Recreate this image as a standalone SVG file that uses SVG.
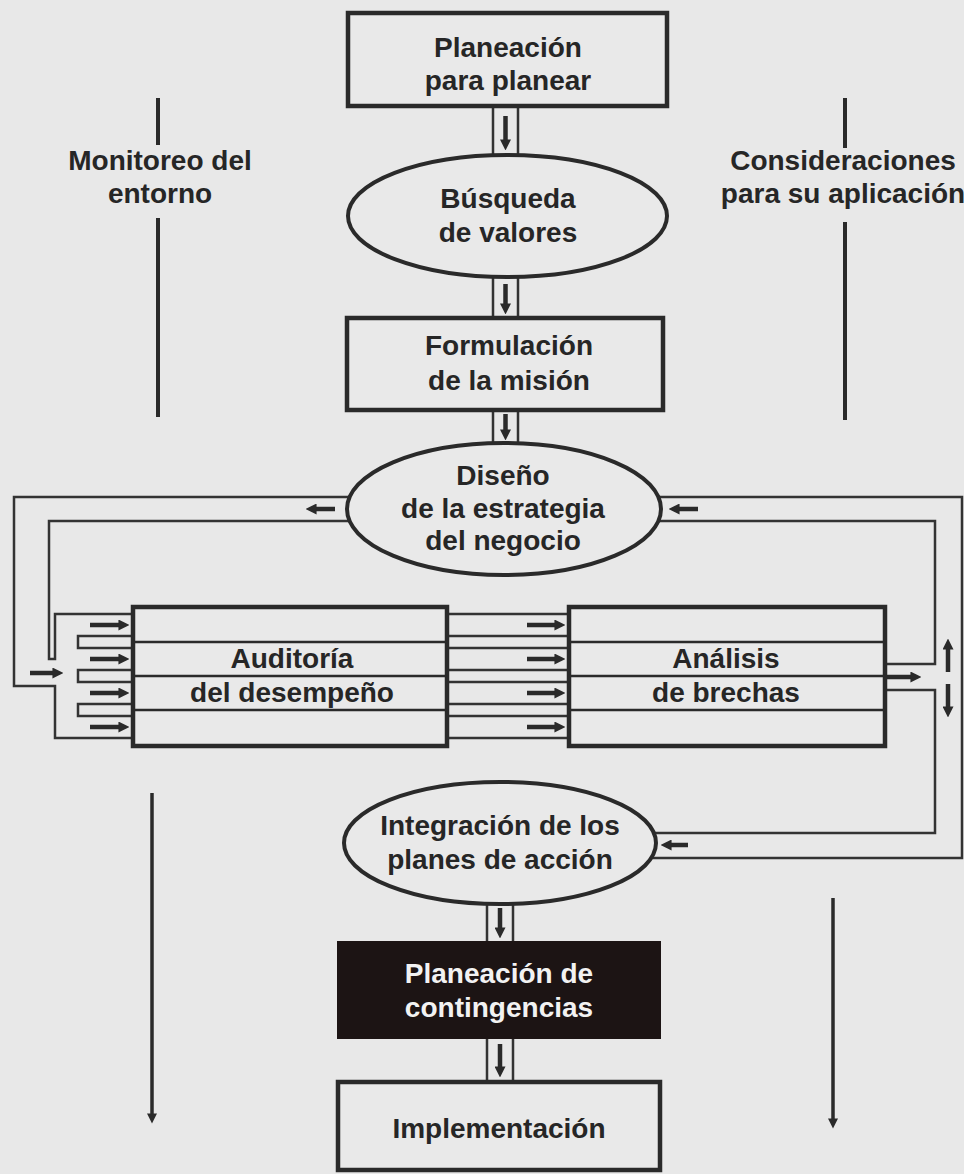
<svg xmlns="http://www.w3.org/2000/svg" width="964" height="1174" viewBox="0 0 964 1174">
<defs>
<style>
.bg{fill:#e8e8e8}
.box{fill:#e9e9e9;stroke:#2a2a2a;stroke-width:4.5}
.ell{fill:#e9e9e9;stroke:#2a2a2a;stroke-width:4}
.div{stroke:#2a2a2a;stroke-width:2.5;fill:none}
.thin{stroke:#333;stroke-width:2.5;fill:none}
.side{stroke:#2a2a2a;stroke-width:4;fill:none}
.arr{stroke:#2a2a2a;stroke-width:4.5;fill:none;marker-end:url(#ah)}
.arrs{stroke:#2a2a2a;stroke-width:3.5;fill:none;marker-end:url(#ahs)}
text{font-family:"Liberation Sans",Arial,sans-serif;font-weight:bold;font-size:28px;fill:#262626;text-anchor:middle}
.w{fill:#f2f2f2}
</style>
<marker id="ah" viewBox="0 0 10 10" refX="0.5" refY="5" markerWidth="11" markerHeight="11" markerUnits="userSpaceOnUse" orient="auto"><path d="M0,0 L10,5 L0,10 z" fill="#2a2a2a"/></marker>
<marker id="ahs" viewBox="0 0 10 10" refX="0.5" refY="5" markerWidth="11" markerHeight="10" markerUnits="userSpaceOnUse" orient="auto"><path d="M0,0 L10,5 L0,10 z" fill="#2a2a2a"/></marker>
</defs>
<rect class="bg" x="0" y="0" width="964" height="1174"/>

<g id="connectors">
  <!-- vertical double-line connectors -->
  <path class="thin" d="M493,106 V160 M518,106 V160"/>
  <line class="arr" x1="505.5" y1="116" x2="505.5" y2="140"/>
  <path class="thin" d="M493,277 V318 M518,277 V318"/>
  <line class="arr" x1="505.5" y1="284" x2="505.5" y2="304"/>
  <path class="thin" d="M493,410 V448 M518,410 V448"/>
  <line class="arr" x1="505.5" y1="414" x2="505.5" y2="430"/>
  <path class="thin" d="M487,900 V942 M513,900 V942"/>
  <line class="arr" x1="500" y1="908" x2="500" y2="928"/>
  <path class="thin" d="M487,1038 V1082 M513,1038 V1082"/>
  <line class="arr" x1="500" y1="1044" x2="500" y2="1067"/>

  <!-- left channel from Diseño to Auditoría comb -->
  <path class="thin" d="M400,497 H14 V686 H55 V738 H135"/>
  <path class="thin" d="M400,521 H49 V659 H55 V614 H135"/>
  <path class="thin" d="M135,636 H78 V648 H135 M135,670 H78 V682 H135 M135,704 H78 V716 H135"/>
  <line class="arr" x1="335" y1="509" x2="316" y2="509"/>
  <line class="arr" x1="30" y1="673" x2="53" y2="673"/>
  <line class="arr" x1="90" y1="625" x2="119" y2="625"/>
  <line class="arr" x1="90" y1="659" x2="119" y2="659"/>
  <line class="arr" x1="90" y1="693" x2="119" y2="693"/>
  <line class="arr" x1="90" y1="727" x2="119" y2="727"/>

  <!-- lanes between Auditoría and Análisis -->
  <path class="thin" d="M447,614 H569 M447,636 H569 M447,648 H569 M447,670 H569 M447,682 H569 M447,704 H569 M447,716 H569 M447,738 H569"/>
  <line class="arr" x1="527" y1="625" x2="555" y2="625"/>
  <line class="arr" x1="527" y1="659" x2="555" y2="659"/>
  <line class="arr" x1="527" y1="693" x2="555" y2="693"/>
  <line class="arr" x1="527" y1="727" x2="555" y2="727"/>

  <!-- right channel -->
  <path class="thin" d="M650,497 H962 V858 H640"/>
  <path class="thin" d="M650,521 H935 V664 H885"/>
  <path class="thin" d="M885,690 H935 V833 H640"/>
  <line class="arr" x1="698" y1="509" x2="679" y2="509"/>
  <line class="arr" x1="887" y1="677" x2="911" y2="677"/>
  <line class="arr" x1="948" y1="672" x2="948" y2="649"/>
  <line class="arr" x1="948" y1="684" x2="948" y2="707"/>
  <line class="arr" x1="688" y1="845" x2="671" y2="845"/>

  <!-- side lines -->
  <path class="side" d="M158,98 V145 M158,218 V417"/>
  <path class="side" d="M845,98 V148 M845,222 V420"/>
  <line class="arrs" x1="152" y1="793" x2="152" y2="1114"/>
  <line class="arrs" x1="833" y1="898" x2="833" y2="1119"/>
</g>

<g id="n-planeacion">
  <rect class="box" x="348" y="13" width="319" height="93"/>
  <text x="508" y="57">Planeación</text>
  <text x="508" y="90">para planear</text>
</g>
<g id="n-busqueda">
  <ellipse class="ell" cx="507.5" cy="216" rx="159.5" ry="61"/>
  <text x="508" y="208">Búsqueda</text>
  <text x="508" y="242">de valores</text>
</g>
<g id="n-formulacion">
  <rect class="box" x="347" y="318" width="316" height="92"/>
  <text x="509" y="355">Formulación</text>
  <text x="509" y="390">de la misión</text>
</g>
<g id="n-diseno">
  <ellipse class="ell" cx="504" cy="509" rx="157" ry="66"/>
  <text x="503" y="485">Diseño</text>
  <text x="503" y="518">de la estrategia</text>
  <text x="503" y="550">del negocio</text>
</g>
<g id="n-auditoria">
  <rect class="box" x="133" y="607" width="314" height="139"/>
  <path class="div" d="M133,642 H447 M133,676 H447 M133,710 H447"/>
  <text x="292" y="668">Auditoría</text>
  <text x="292" y="702">del desempeño</text>
</g>
<g id="n-analisis">
  <rect class="box" x="569" y="607" width="316" height="139"/>
  <path class="div" d="M569,642 H885 M569,676 H885 M569,710 H885"/>
  <text x="726" y="668">Análisis</text>
  <text x="726" y="702">de brechas</text>
</g>
<g id="n-integracion">
  <ellipse class="ell" cx="500" cy="843" rx="156" ry="61"/>
  <text x="500" y="835">Integración de los</text>
  <text x="500" y="869">planes de acción</text>
</g>
<g id="n-contingencias">
  <rect x="338" y="942" width="322" height="96" fill="#1c1414" stroke="#1c1414" stroke-width="2"/>
  <text class="w" x="499" y="983">Planeación de</text>
  <text class="w" x="499" y="1017">contingencias</text>
</g>
<g id="n-implementacion">
  <rect class="box" x="338" y="1082" width="322" height="88"/>
  <text x="499" y="1138">Implementación</text>
</g>
<g id="l-monitoreo">
  <text x="160" y="170">Monitoreo del</text>
  <text x="160" y="203">entorno</text>
</g>
<g id="l-consideraciones">
  <text x="843" y="170">Consideraciones</text>
  <text x="843" y="203">para su aplicación</text>
</g>
</svg>
